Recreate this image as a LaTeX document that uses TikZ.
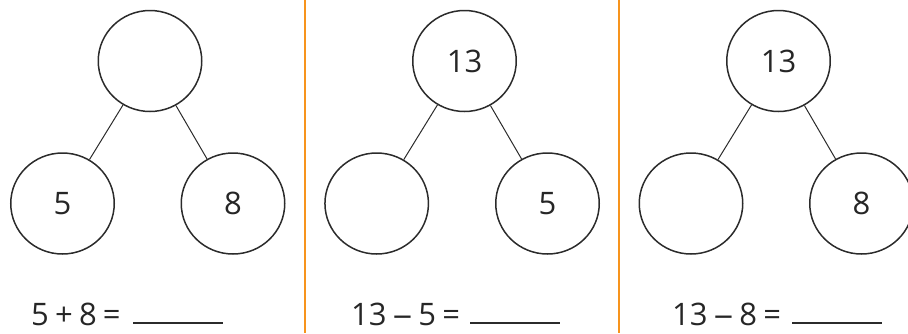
\documentclass[tikz,border=0pt]{standalone}
\usepackage{fontspec}
\setmainfont{Open Sans}
\usetikzlibrary{shapes.geometric}
\definecolor{ink}{HTML}{2B2B2B}
\definecolor{txt}{HTML}{262626}
\definecolor{divider}{HTML}{F7941D}
\newcommand{\wdash}{\scalebox{1.25}[1]{–}}
\newcommand{\eqfont}{\fontsize{31}{36}\selectfont\spaceskip=0.2em\relax}
\tikzset{
  bubble/.style={ellipse, draw=ink, line width=1.5pt, minimum width=103.5pt, minimum height=101pt, inner sep=0pt, font=\fontsize{31}{36}\selectfont, text=txt},
  link/.style={draw=ink, line width=1pt},
  eqn/.style={anchor=base west, inner sep=0pt, font=\eqfont, text=txt},
  blank/.style={draw=ink, line width=1.5pt},
  sep/.style={draw=divider, line width=2.5pt}
}
\begin{document}
\begin{tikzpicture}[x=1pt,y=-1pt]
\useasboundingbox (0,0) rectangle (908,333);
% dividers
\coordinate (d1t) at (305,0); \coordinate (d1b) at (305,333);
\coordinate (d2t) at (619,0); \coordinate (d2b) at (619,333);
\draw[sep] (d1t) -- (d1b);
\draw[sep] (d2t) -- (d2b);
% panel 1
\node[bubble] (t1) at (150,61) {};
\node[bubble] (l1) at (62.5,203.5) {5};
\node[bubble] (r1) at (233,203.5) {8};
\draw[link] (t1) -- (l1);
\draw[link] (t1) -- (r1);
\node[eqn] (e1) at (31,325) {5 + 8 =};
\coordinate (u1a) at (133,323); \coordinate (u1b) at (223,323);
\draw[blank] (u1a) -- (u1b);
% panel 2
\node[bubble] (t2) at (464.5,61) {13};
\node[bubble] (l2) at (376.7,203.5) {};
\node[bubble] (r2) at (547.5,203.5) {5};
\draw[link] (t2) -- (l2);
\draw[link] (t2) -- (r2);
\node[eqn] (e2) at (351,325) {13 \wdash{} 5 =};
\coordinate (u2a) at (470,323); \coordinate (u2b) at (560,323);
\draw[blank] (u2a) -- (u2b);
% panel 3
\node[bubble] (t3) at (778.5,61) {13};
\node[bubble] (l3) at (691,203.5) {};
\node[bubble] (r3) at (861.5,203.5) {8};
\draw[link] (t3) -- (l3);
\draw[link] (t3) -- (r3);
\node[eqn] (e3) at (672,325) {13 \wdash{} 8 =};
\coordinate (u3a) at (792,323); \coordinate (u3b) at (882,323);
\draw[blank] (u3a) -- (u3b);
\end{tikzpicture}
\end{document}
